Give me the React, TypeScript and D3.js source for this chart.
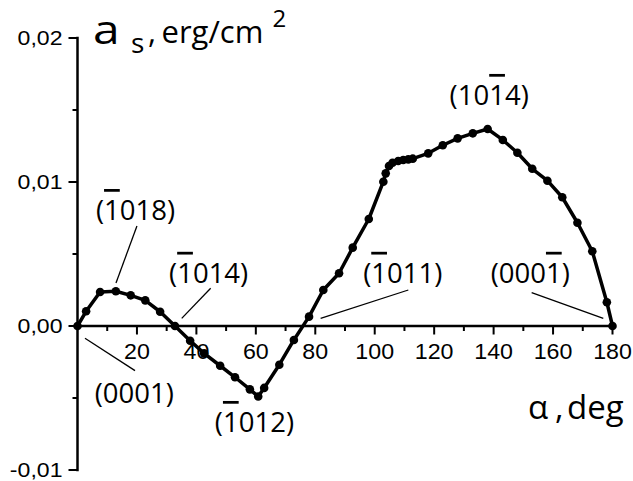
import * as d3 from "d3";

// angle alpha (deg) and surface energy anisotropy a_s (erg/cm^2)
const alpha = [
  0, 2.9, 7.6, 12.9, 17.9, 22.8, 27.8, 32.8, 37.9, 42.6, 48.0, 53.0, 58.0, 60.8,
  62.8, 67.9, 72.8, 77.9, 82.7, 88.0, 92.6, 98.0, 102.9, 103.7, 104.8, 106.0,
  107.9, 109.6, 111.3, 112.8, 118.0, 122.9, 127.9, 133.0, 138.0, 143.1, 148.0,
  153.0, 158.1, 163.1, 168.2, 173.2, 178.1, 180,
];
const surfaceEnergy = [
  0, 0.00102, 0.00236, 0.00241, 0.00213, 0.00178, 0.00099, 0, -0.00102,
  -0.0019, -0.00276, -0.00356, -0.0044, -0.0049, -0.0043, -0.00269, -0.00097,
  0.00065, 0.0025, 0.00366, 0.00544, 0.00743, 0.01002, 0.0106, 0.01111,
  0.01134, 0.01146, 0.01153, 0.01157, 0.01162, 0.01199, 0.01255, 0.01303,
  0.01338, 0.01368, 0.01292, 0.01203, 0.01092, 0.01009, 0.00894, 0.00717,
  0.00519, 0.00165, 0,
];

const xMajorTicks = [20, 40, 60, 80, 100, 120, 140, 160, 180];
const xMinorTicks = [10, 30, 50, 70, 90, 110, 130, 150, 170];
const yMajorTicks = [-0.01, 0, 0.01, 0.02];
const yTickLabels = ["-0,01", "0,00", "0,01", "0,02"];
const yMinorTicks = [-0.005, 0.005, 0.015];

// plane labels: text, index of the character with the overbar (-1 = none), anchor in data units
const planeLabels = [
  { text: "(1018)", bar: 1, a: 6.2, v: 0.00736 },
  { text: "(1014)", bar: 1, a: 30.8, v: 0.003 },
  { text: "(1011)", bar: 1, a: 96.1, v: 0.003 },
  { text: "(0001)", bar: 4, a: 139.0, v: 0.003 },
  { text: "(1014)", bar: 3, a: 125.2, v: 0.01535 },
  { text: "(0001)", bar: -1, a: 5.8, v: -0.00535 },
  { text: "(1012)", bar: 1, a: 46.2, v: -0.00736 },
];
const leaders = [
  [20.0, 0.00694, 12.95, 0.00299],
  [44.8, 0.00262, 35.06, 0.00053],
  [111.3, 0.0025, 81.8, 0.00053],
  [152.8, 0.00231, 176.9, 0.00053],
  [2.52, -0.00085, 19.35, -0.0031],
];

const W = 633;
const H = 481;
const tickFont = "'Liberation Sans', Arial, sans-serif";
const labelFont = "'Open Sans', sans-serif";

export default function App() {
  const x = d3.scaleLinear().domain([0, 180]).range([77.5, 612.5]);
  const y = d3.scaleLinear().domain([-0.01, 0.02]).range([470, 38]);
  const pts = alpha.map((a, i) => [a, surfaceEnergy[i]] as [number, number]);
  const line = d3
    .line<[number, number]>()
    .x((d) => x(d[0]))
    .y((d) => y(d[1]));

  return (
    <svg
      width={W}
      height={H}
      style={{ position: "absolute", left: 0, top: 0, background: "#fff" }}
    >
      {/* axes */}
      <line x1={x(0)} x2={x(180)} y1={y(0)} y2={y(0)} stroke="#000" strokeWidth={2.5} />
      <line x1={x(0)} x2={x(0)} y1={y(0.02) - 1.2} y2={y(-0.01) + 1.2} stroke="#000" strokeWidth={2.5} />
      {xMajorTicks.map((t) => (
        <g key={"xm" + t}>
          <line x1={x(t)} x2={x(t)} y1={y(0)} y2={y(0) + 8.5} stroke="#000" strokeWidth={2} />
          <text
            transform={`translate(${x(t)},358.5) scale(1.08,1)`}
            textAnchor="middle"
            fontFamily={tickFont}
            fontSize={21.5}
          >
            {t}
          </text>
        </g>
      ))}
      {xMinorTicks.map((t) => (
        <line key={"xn" + t} x1={x(t)} x2={x(t)} y1={y(0)} y2={y(0) + 5} stroke="#000" strokeWidth={2} />
      ))}
      {yMajorTicks.map((t, i) => (
        <g key={"ym" + t}>
          <line x1={x(0) - 9} x2={x(0)} y1={y(t)} y2={y(t)} stroke="#000" strokeWidth={2} />
          <text
            transform={`translate(62.5,${y(t) + 7}) scale(1.1,1)`}
            textAnchor="end"
            fontFamily={tickFont}
            fontSize={21}
          >
            {yTickLabels[i]}
          </text>
        </g>
      ))}
      {yMinorTicks.map((t) => (
        <line key={"yn" + t} x1={x(0) - 5} x2={x(0)} y1={y(t)} y2={y(t)} stroke="#000" strokeWidth={2} />
      ))}

      {/* axis titles */}
      <g fontFamily={labelFont} fill="#000">
        <text transform="translate(93,44) scale(1.2,1)" fontSize={40}>a</text>
        <text x={131} y={53} fontSize={28}>s</text>
        <text x={148} y={43.3} fontSize={31}>,</text>
        <text x={161.5} y={43.3} fontSize={31}>erg/cm</text>
        <text x={272.5} y={26.7} fontSize={24}>2</text>
        <text x={528} y={419.3} fontSize={33}>α</text>
        <text x={555} y={419.3} fontSize={33}>,</text>
        <text x={567} y={419.3} fontSize={33}>deg</text>
      </g>

      {/* data */}
      <path d={line(pts) ?? ""} fill="none" stroke="#000" strokeWidth={3.5} strokeLinejoin="round" />
      {pts.map((d, i) => (
        <circle key={i} cx={x(d[0])} cy={y(d[1])} r={4.3} fill="#000" />
      ))}

      {/* plane annotations */}
      {leaders.map((l, i) => (
        <line
          key={"l" + i}
          x1={x(l[0])}
          y1={y(l[1])}
          x2={x(l[2])}
          y2={y(l[3])}
          stroke="#000"
          strokeWidth={1.3}
        />
      ))}
      {planeLabels.map((p, i) => (
        <text key={"p" + i} x={x(p.a)} y={y(p.v)} fontFamily={labelFont} fontSize={27.5}>
          {p.text.split("").map((c, j) => (
            <tspan key={j} style={j === p.bar ? { textDecoration: "overline" } : undefined}>
              {c}
            </tspan>
          ))}
        </text>
      ))}
    </svg>
  );
}
